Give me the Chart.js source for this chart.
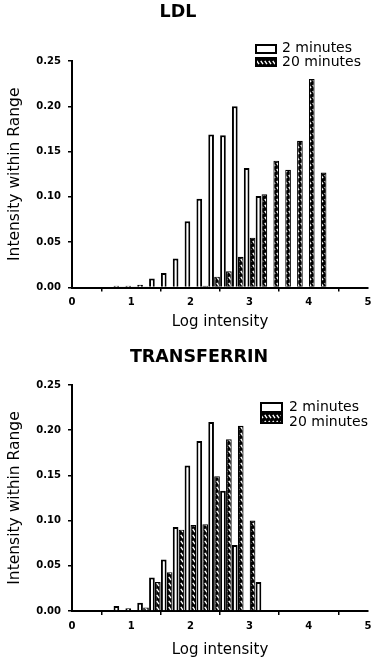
<!DOCTYPE html>
<html><head><meta charset="utf-8">
<script src="https://cdn.jsdelivr.net/npm/chart.js@4"></script>
<style>
html,body{margin:0;padding:0;background:#fff;}
#wrap{position:relative;width:378px;height:658px;overflow:hidden;background:#fff;}
canvas{position:absolute;left:0;}
#c1{top:0;} #c2{top:330px;}
</style></head><body>
<div id="wrap"><canvas id="c1" width="378" height="330"></canvas><canvas id="c2" width="378" height="328"></canvas></div>
<script>
// ---- data ----
const logBins = [0.8, 1.0, 1.2, 1.4, 1.6, 1.8, 2.0, 2.2, 2.4, 2.6, 2.8, 3.0, 3.2, 3.4, 3.6, 3.8, 4.0, 4.2];
const seriesLabels = ['2 minutes', '20 minutes'];
const panelTitles = ['LDL', 'TRANSFERRIN'];
const xAxisTitle = 'Log intensity';
const yAxisTitle = 'Intensity within Range';
const xTickValues = [0, 1, 2, 3, 4, 5];
const yTickValues = [0.00, 0.05, 0.10, 0.15, 0.20, 0.25];

const ldl2min  = [0.002, 0.002, 0.003, 0.010, 0.016, 0.032, 0.073, 0.098, 0.169, 0.168, 0.200, 0.132, 0.101, 0, 0, 0, 0, 0];
const ldl20min = [0.001, 0.001, 0.001, 0, 0, 0, 0, 0.002, 0.012, 0.018, 0.034, 0.055, 0.103, 0.140, 0.130, 0.162, 0.230, 0.127];
const tf2min   = [0.0055, 0.003, 0.009, 0.037, 0.057, 0.093, 0.161, 0.188, 0.209, 0.133, 0.073, 0, 0.032, 0, 0, 0, 0, 0];
const tf20min  = [0, 0.001, 0.004, 0.032, 0.043, 0.090, 0.095, 0.096, 0.149, 0.190, 0.205, 0.100, 0, 0, 0, 0, 0, 0];

// ---- styling helpers ----
function makeHatch() {
  const c = document.createElement('canvas');
  c.width = 4; c.height = 6;
  const g = c.getContext('2d');
  g.fillStyle = '#000'; g.fillRect(0, 0, 4, 6);
  g.strokeStyle = '#fff'; g.lineWidth = 1.4;
  g.beginPath(); g.moveTo(0.8, 0.8); g.lineTo(3.0, 4.2); g.stroke();
  return g.createPattern(c, 'repeat');
}
const hatch = makeHatch();
const FONT = '"DejaVu Sans", "Liberation Sans", Arial, sans-serif';

const panelDecor = {
  id: 'panelDecor',
  afterDraw(chart, args, opts) {
    const ctx = chart.ctx;
    ctx.save();
    ctx.fillStyle = '#000';
    ctx.font = 'bold 17.5px ' + FONT;
    ctx.textAlign = 'center'; ctx.textBaseline = 'middle';
    ctx.fillText(opts.title, opts.titleX, opts.titleY);
    ctx.font = '14px ' + FONT;
    ctx.textAlign = 'left';
    chart.data.datasets.forEach((ds, i) => {
      const b = opts.boxes[i];
      ctx.fillStyle = ds.backgroundColor;
      ctx.fillRect(b.x, b.y, b.w, b.h);
      ctx.strokeStyle = '#000'; ctx.lineWidth = 2;
      ctx.strokeRect(b.x, b.y, b.w, b.h);
      ctx.fillStyle = '#000';
      ctx.fillText(ds.label, opts.textX, b.ty);
    });
    ctx.restore();
  }
};

function toPoints(vals) { return logBins.map((x, i) => ({x: x, y: vals[i]})); }

function makeChart(id, title, vals2, vals20, geo) {
  return new Chart(document.getElementById(id), {
    type: 'bar',
    data: {
      datasets: [
        { label: seriesLabels[0], data: toPoints(vals2), backgroundColor: '#fff', borderColor: '#000', borderWidth: 2 },
        { label: seriesLabels[1], data: toPoints(vals20), backgroundColor: hatch, borderColor: '#000', borderWidth: 1.2 }
      ]
    },
    options: {
      responsive: false, animation: false, devicePixelRatio: 1,
      categoryPercentage: 1.0, barPercentage: 0.96,
      layout: { padding: { top: geo.top, right: 10, left: 0, bottom: 0 } },
      plugins: {
        legend: { display: false }, tooltip: { enabled: false }, title: { display: false },
        panelDecor: geo.decor
      },
      scales: {
        x: {
          type: 'linear', min: 0, max: 5, offset: false,
          afterBuildTicks: s => { s.ticks = xTickValues.map(v => ({value: v})); },
          afterFit: s => { s.height = geo.xh; },
          grid: { display: true, drawOnChartArea: false, drawTicks: true, tickLength: 4, color: '#000', lineWidth: 1.5 },
          border: { display: true, color: '#000', width: 2 },
          ticks: { color: '#000', padding: 5, font: { family: FONT, size: 10, weight: 'bold' }, callback: v => String(v), maxRotation: 0 },
          title: { display: true, text: xAxisTitle, color: '#000', font: { family: FONT, size: 15, lineHeight: 1 }, padding: { top: 0, bottom: 0 } }
        },
        y: {
          min: 0, max: 0.25,
          afterBuildTicks: s => { s.ticks = yTickValues.map(v => ({value: v})); },
          afterFit: s => { s.width = 72; },
          grid: { display: true, drawOnChartArea: false, drawTicks: true, tickLength: 4, color: '#000', lineWidth: 1.5 },
          border: { display: true, color: '#000', width: 2 },
          ticks: { color: '#000', padding: 7, font: { family: FONT, size: 10, weight: 'bold' }, callback: v => Number(v).toFixed(2) },
          title: { display: true, text: yAxisTitle, color: '#000', font: { family: FONT, size: 15.5, lineHeight: 1 }, padding: { top: 7, bottom: 0 } }
        }
      }
    },
    plugins: [panelDecor]
  });
}

makeChart('c1', panelTitles[0], ldl2min, ldl20min, {
  top: 61, xh: 42.5,
  decor: { title: panelTitles[0], titleX: 178, titleY: 12, textX: 282,
    boxes: [ {x: 256, y: 45, w: 20, h: 8, ty: 48.5}, {x: 256, y: 58, w: 20, h: 8, ty: 62.5} ] }
});
makeChart('c2', panelTitles[1], tf2min, tf20min, {
  top: 55, xh: 47,
  decor: { title: panelTitles[1], titleX: 199, titleY: 27.5, textX: 289,
    boxes: [ {x: 261, y: 73, w: 21, h: 9, ty: 77}, {x: 261, y: 83, w: 21, h: 10, ty: 92} ] }
});
</script>
</body></html>
